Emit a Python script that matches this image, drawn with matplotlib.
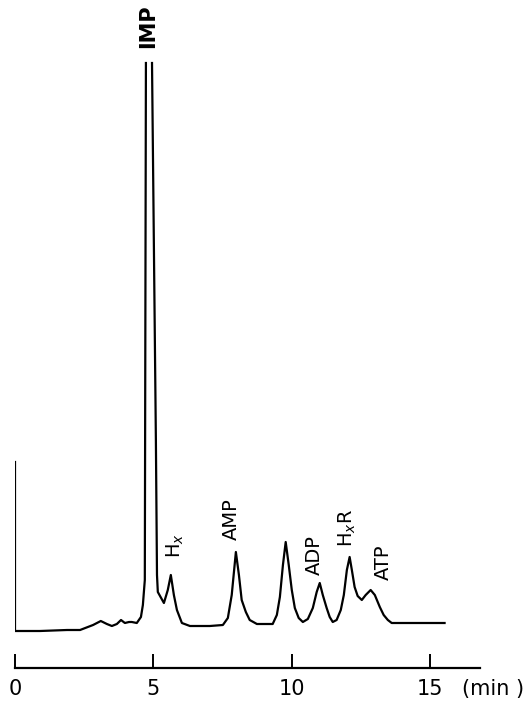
import matplotlib
matplotlib.use('Agg')
import matplotlib.pyplot as plt
import numpy as np

# Chromatogram trace (time in min, detector signal in arbitrary units)
time = [0.0, 0.0, 0.9, 1.88, 2.35, 2.82, 3.10, 3.32, 3.50, 3.68, 3.83, 3.97, 4.12,
        4.22, 4.40, 4.55, 4.62, 4.69, 4.73, np.nan, 4.95, 5.09, 5.13, 5.16, 5.38,
        5.52, 5.63, 5.74, 5.85, 6.03, 6.32, 7.04, 7.51, 7.69, 7.83, 7.98, 8.09,
        8.19, 8.34, 8.48, 8.74, 9.31, 9.46, 9.57, 9.68, 9.78, 9.89, 10.0, 10.11,
        10.25, 10.40, 10.58, 10.76, 10.90, 11.01, 11.12, 11.26, 11.37, 11.48,
        11.62, 11.77, 11.88, 11.99, 12.09, 12.17, 12.27, 12.38, 12.53, 12.67,
        12.85, 13.0, 13.18, 13.32, 13.47, 13.61, 14.69, 15.52]
signal = [168, -1, -1, 0, 0, 5, 9, 6, 4, 6, 10, 7, 8,
          8, 7, 13, 25, 50, 567, np.nan, 567, 190, 55, 38, 27,
          40, 55, 35, 20, 7, 4, 4, 5, 12, 35, 78, 55,
          30, 18, 10, 6, 6, 15, 33, 65, 88, 65, 40, 22,
          12, 8, 11, 22, 38, 47, 35, 22, 13, 8,
          10, 20, 35, 60, 73, 60, 43, 34, 30, 35,
          40, 35, 23, 15, 10, 7, 7, 7]

# Peak labels: name, time position, signal height of label base
peak_names = ['IMP', 'H$_x$', 'AMP', 'ADP', 'H$_x$R', 'ATP']
peak_t = [4.80, 5.78, 7.83, 10.83, 11.99, 13.29]
peak_s = [582, 72, 90, 55, 83, 50]

ticks = [0, 5, 10, 15]

fig = plt.figure(figsize=(5.31, 7.01), dpi=100)
ax = fig.add_axes([15 / 531, 33 / 701, 465 / 531, 668 / 701])

ax.plot(time, signal, color='black', linewidth=1.6, solid_joinstyle='round')

for name, t, s in zip(peak_names, peak_t, peak_s):
    if name == 'IMP':
        ax.text(t, s, name, rotation=90, ha='center', va='bottom',
                fontsize=15, fontweight='bold')
    else:
        ax.text(t, s, name, rotation=90, ha='center', va='bottom', fontsize=14)

ax.set_xlim(0, 16.8)
ax.set_ylim(-38, 630)

for side in ['top', 'right', 'left']:
    ax.spines[side].set_visible(False)
ax.spines['bottom'].set_linewidth(1.6)
ax.set_yticks([])
ax.set_xticks(ticks)
ax.set_xticklabels([str(t) for t in ticks], fontsize=15)
ax.tick_params(axis='x', direction='in', length=10, width=1.4, pad=8)

# unit label to the right of the last tick label
ax.annotate('(min )', xy=(16.15, -38), xytext=(0, -8), textcoords='offset points',
            ha='left', va='top', fontsize=15, annotation_clip=False)

fig.savefig('out.png', dpi=100)
